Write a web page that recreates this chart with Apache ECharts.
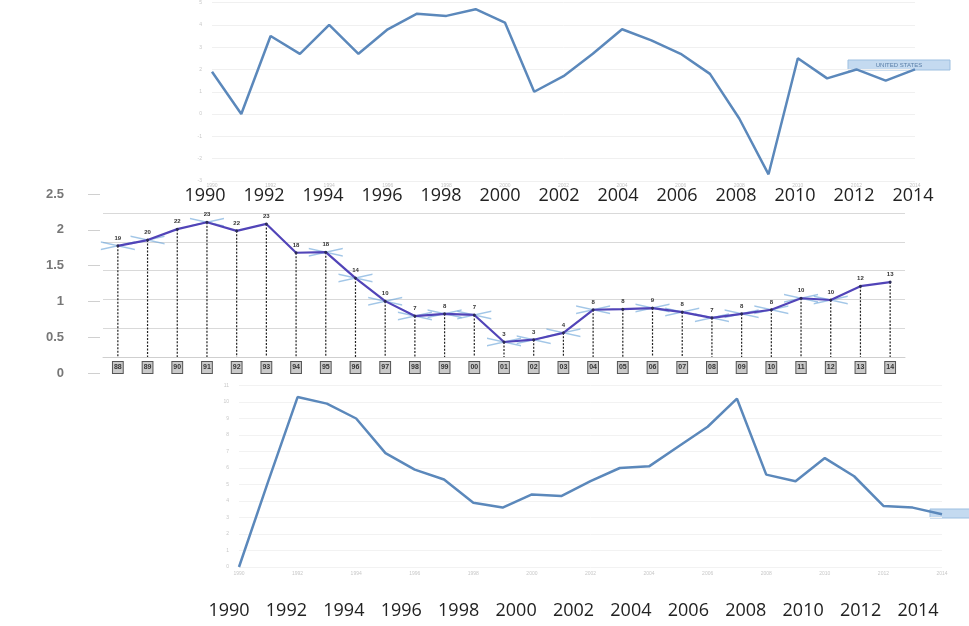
<!DOCTYPE html>
<html>
<head>
<meta charset="utf-8">
<script src="https://cdn.jsdelivr.net/npm/echarts@6/dist/echarts.min.js"></script>
<style>
html,body{margin:0;padding:0;background:#fff}
#chart{width:969px;height:626px}
</style>
</head>
<body>
<div id="chart"></div>
<script>
// years shared by the top and bottom panels
var years = ['1990','1991','1992','1993','1994','1995','1996','1997','1998','1999','2000','2001','2002',
  '2003','2004','2005','2006','2007','2008','2009','2010','2011','2012','2013','2014'];
// top panel (United States)
var usValues = [1.9, 0.0, 3.5, 2.7, 4.0, 2.7, 3.8, 4.5, 4.4, 4.7, 4.1, 1.0, 1.7,
  2.7, 3.8, 3.3, 2.7, 1.8, -0.2, -2.7, 2.5, 1.6, 2.0, 1.5, 2.0];
// middle panel
var midCats = ['1988','1989','1990','1991','1992','1993','1994','1995','1996','1997','1998','1999','2000',
  '2001','2002','2003','2004','2005','2006','2007','2008','2009','2010','2011','2012','2013','2014'];
var midValues = [1.93, 2.03, 2.22, 2.34, 2.19, 2.31, 1.81, 1.82, 1.37, 0.97, 0.71, 0.75, 0.73,
  0.26, 0.30, 0.42, 0.82, 0.83, 0.85, 0.78, 0.68, 0.75, 0.82, 1.02, 0.99, 1.23, 1.30];
var midCrossIdx = [0, 1, 3, 7, 8, 9, 10, 11, 12, 13, 14, 15, 16, 18, 19, 20, 21, 22, 23, 24];
var midTicks = [0, 0.5, 1, 1.5, 2, 2.5];
// bottom panel
var lowValues = [0, 5.2, 10.3, 9.9, 9.0, 6.9, 5.9, 5.3, 3.9, 3.6, 4.4, 4.3, 5.2,
  6.0, 6.1, 7.3, 8.5, 10.2, 5.6, 5.2, 6.6, 5.5, 3.7, 3.6, 3.2];

var myChart = echarts.init(document.getElementById('chart'));

var crossData = midValues.map(function (v, i) {
  return midCrossIdx.indexOf(i) >= 0 ? v : null;
});
var dropData = midValues.map(function (v, i) { return [i, v]; });

var faintLabel = { fontSize: 5, color: '#c8c8c8' };
var bigLabel = { fontSize: 18, color: '#222', fontFamily: 'Open Sans', interval: 1, margin: 2 };

var option = {
  animation: false,
  backgroundColor: '#fff',
  grid: [
    { left: 212, right: 54, top: 0, height: 181 },        // top panel
    { left: 103, right: 64, top: 213, height: 144 },      // middle panel
    { left: 239, right: 27, top: 385.5, height: 181.5 },  // bottom panel
    { left: 100, width: 1, top: 194, height: 179 },       // middle left scale
    { left: 205, right: 56, top: 184, height: 1 },        // top year row
    { left: 229, right: 51, top: 599, height: 1 }         // bottom year row
  ],
  xAxis: [
    { gridIndex: 0, type: 'category', data: years, boundaryGap: false,
      axisLine: { show: false }, axisTick: { show: false },
      axisLabel: Object.assign({ interval: 1, margin: 2 }, faintLabel) },
    { gridIndex: 1, type: 'category', data: midCats, boundaryGap: true,
      axisLine: { lineStyle: { color: '#cfcfcf' } }, axisTick: { show: false },
      axisLabel: { interval: 0, fontSize: 7, fontWeight: 'bold', color: '#333', margin: 5,
        backgroundColor: '#c9c9c9', borderColor: '#555', borderWidth: 1, padding: [2, 1],
        formatter: function (v) { return v.slice(2); } } },
    { gridIndex: 2, type: 'category', data: years, boundaryGap: false,
      axisLine: { show: false }, axisTick: { show: false },
      axisLabel: Object.assign({ interval: 1, margin: 4 }, faintLabel) },
    { gridIndex: 3, type: 'value', show: false },
    { gridIndex: 4, type: 'category', data: years, boundaryGap: false,
      axisLine: { show: false }, axisTick: { show: false }, axisLabel: bigLabel },
    { gridIndex: 5, type: 'category', data: years, boundaryGap: false,
      axisLine: { show: false }, axisTick: { show: false }, axisLabel: bigLabel }
  ],
  yAxis: [
    { gridIndex: 0, type: 'value', min: -3, max: 5, interval: 1,
      axisLine: { show: false }, axisTick: { show: false },
      axisLabel: Object.assign({ margin: 10 }, faintLabel),
      splitLine: { lineStyle: { color: '#f0f0f0' } } },
    { gridIndex: 1, type: 'value', min: 0, max: 2.5, interval: 0.5,
      axisLine: { show: false }, axisTick: { show: false }, axisLabel: { show: false },
      splitLine: { lineStyle: { color: '#d9d9d9' } } },
    { gridIndex: 2, type: 'value', min: 0, max: 11, interval: 1,
      axisLine: { show: false }, axisTick: { show: false },
      axisLabel: Object.assign({ margin: 10 }, faintLabel),
      splitLine: { lineStyle: { color: '#f2f2f2' } } },
    { gridIndex: 3, type: 'value', min: 0, max: 2.5, interval: 0.5,
      axisLine: { show: false },
      axisTick: { show: true, length: 12, lineStyle: { color: '#d0d0d0' } },
      axisLabel: { margin: 36, fontSize: 13, fontWeight: 'bold', color: '#777',
        formatter: function (v) { return midTicks.indexOf(v) >= 0 ? String(v) : ''; } },
      splitLine: { show: false } },
    { gridIndex: 4, type: 'value', show: false },
    { gridIndex: 5, type: 'value', show: false }
  ],
  graphic: [
    { type: 'rect', shape: { x: 848, y: 60, width: 102, height: 10 },
      style: { fill: 'rgba(176,206,235,0.75)', stroke: '#9dbfe0' } },
    { type: 'text', x: 899, y: 65,
      style: { text: 'UNITED STATES', fontSize: 6, fill: '#5a7fa8', align: 'center', verticalAlign: 'middle' } },
    { type: 'rect', shape: { x: 930, y: 509, width: 40, height: 9 },
      style: { fill: 'rgba(176,206,235,0.75)', stroke: '#9dbfe0' } }
  ],
  series: [
    { type: 'line', xAxisIndex: 0, yAxisIndex: 0, data: usValues,
      symbol: 'none', lineStyle: { color: '#5b88bb', width: 2.5 } },
    { type: 'custom', xAxisIndex: 1, yAxisIndex: 1, data: dropData, z: 1,
      renderItem: function (params, api) {
        var p = api.coord([api.value(0), api.value(1)]);
        var b = api.coord([api.value(0), 0]);
        return { type: 'line', shape: { x1: p[0], y1: p[1], x2: b[0], y2: b[1] },
          style: { stroke: '#222', lineWidth: 1.2, lineDash: [2, 1.5] } };
      } },
    { type: 'scatter', xAxisIndex: 1, yAxisIndex: 1, data: crossData, z: 2,
      symbol: 'path://M0,6 L30,0 L30,1.2 L0,7.2 Z M0,0 L30,6 L30,7.2 L0,1.2 Z',
      symbolSize: [34, 9], itemStyle: { color: 'rgba(100,160,215,0.75)' } },
    { type: 'line', xAxisIndex: 1, yAxisIndex: 1, data: midValues, z: 3,
      symbol: 'circle', symbolSize: 3, itemStyle: { color: '#2c2c5a' },
      lineStyle: { color: '#5144b8', width: 2.2 },
      label: { show: true, position: 'top', distance: 3, fontSize: 6, fontWeight: 'bold', color: '#333',
        formatter: function (p) { return Math.round(p.value * 10); } } },
    { type: 'line', xAxisIndex: 2, yAxisIndex: 2, data: lowValues,
      symbol: 'none', lineStyle: { color: '#5b88bb', width: 2.5 } }
  ]
};

myChart.setOption(option);
</script>
</body>
</html>
